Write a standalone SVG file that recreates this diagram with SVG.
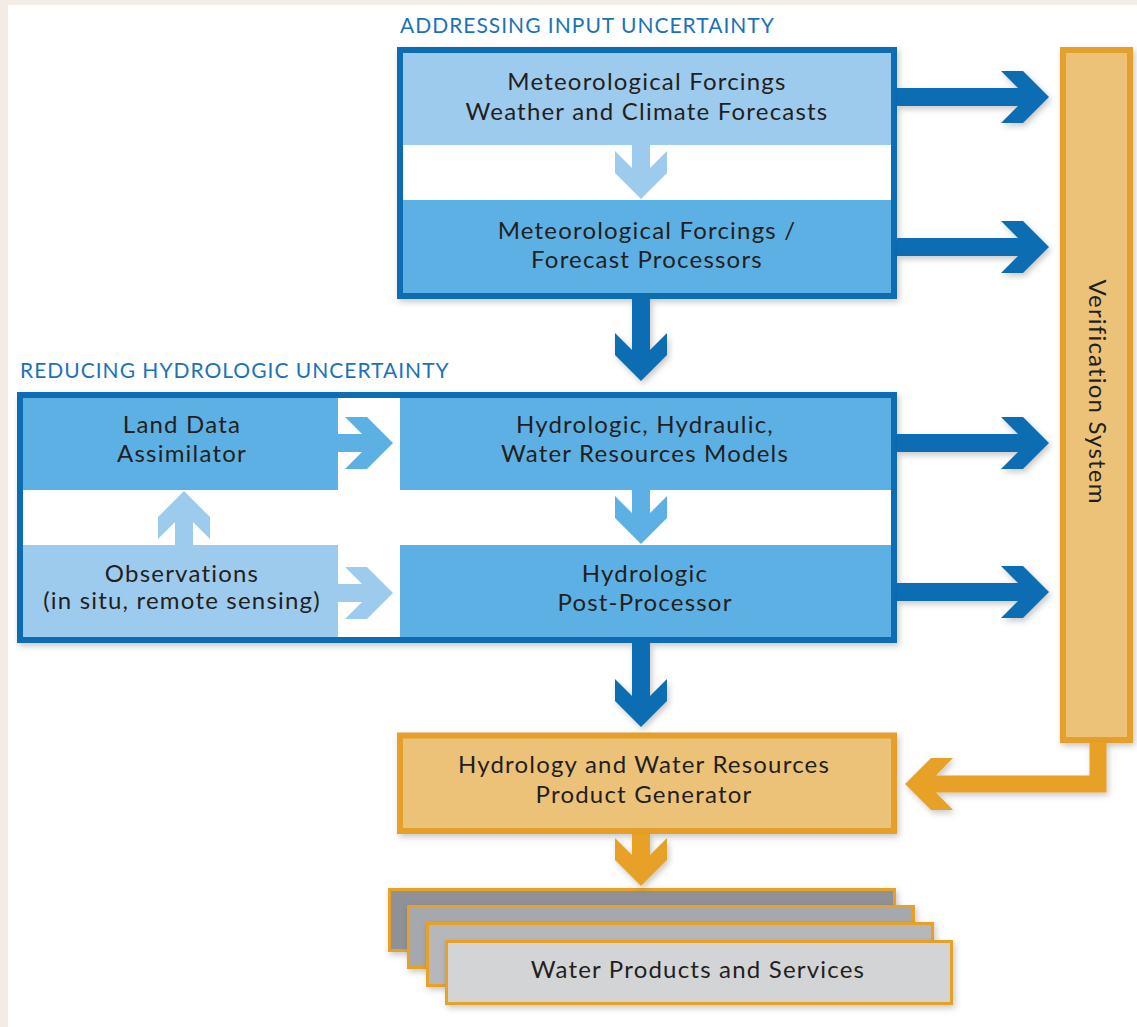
<svg xmlns="http://www.w3.org/2000/svg" width="1137" height="1027" viewBox="0 0 1137 1027">
<defs>
<style>
.t{font-family:Lato,"Open Sans","Liberation Sans",sans-serif;font-size:24px;letter-spacing:1.2px;fill:#231f20;text-anchor:middle}
.title{font-family:Lato,"Open Sans","Liberation Sans",sans-serif;font-size:21px;letter-spacing:1px;fill:#1c72b9}
.lb{fill:#9dcbee}
.mb{fill:#5db0e3}
.db{fill:#0b6db3}
.or{fill:#e6a128}
.frameB{fill:#ffffff;stroke:#0b6db3;stroke-width:6}
.frameO{fill:#ecc278;stroke:#e4a02a;stroke-width:6}
.card{stroke:#e6a128;stroke-width:3}
</style>
<filter id="sh" x="-10%" y="-10%" width="125%" height="130%">
<feDropShadow dx="2" dy="3" stdDeviation="3" flood-color="#000" flood-opacity="0.22"/>
</filter>
</defs>
<rect x="0" y="0" width="1137" height="1027" fill="#f3ebe6"/>
<rect x="8" y="5" width="1129" height="1022" fill="#ffffff"/>

<text class="title" x="400" y="33">ADDRESSING INPUT UNCERTAINTY</text>
<text class="title" x="20" y="378">REDUCING HYDROLOGIC UNCERTAINTY</text>

<g id="input-box">
<rect class="frameB" x="400" y="50" width="494" height="246" filter="url(#sh)"/>
</g>
<g id="met-forcings">
<rect class="lb" x="403" y="53" width="488" height="92"/>
<text class="t" x="647" y="90">Meteorological Forcings</text>
<text class="t" x="647" y="120">Weather and Climate Forecasts</text>
</g>
<g id="forecast-processors">
<rect class="mb" x="403" y="200" width="488" height="93"/>
<text class="t" x="647" y="239">Meteorological Forcings /</text>
<text class="t" x="647" y="268">Forecast Processors</text>
</g>

<g id="hydro-box">
<rect class="frameB" x="20" y="395" width="874" height="245" filter="url(#sh)"/>
</g>
<g id="land-data-assimilator">
<rect class="mb" x="23" y="398" width="315" height="92"/>
<text class="t" x="182" y="433">Land Data</text>
<text class="t" x="182" y="462">Assimilator</text>
</g>
<g id="observations">
<rect class="lb" x="23" y="545" width="315" height="92"/>
<text class="t" x="182" y="582">Observations</text>
<text class="t" x="182" y="609">(in situ, remote sensing)</text>
</g>
<g id="hydro-models">
<rect class="mb" x="400" y="398" width="491" height="92"/>
<text class="t" x="645" y="433">Hydrologic, Hydraulic,</text>
<text class="t" x="645" y="462">Water Resources Models</text>
</g>
<g id="post-processor">
<rect class="mb" x="400" y="545" width="491" height="92"/>
<text class="t" x="645" y="582">Hydrologic</text>
<text class="t" x="645" y="611">Post-Processor</text>
</g>

<g id="verification-system">
<rect class="frameO" x="1063" y="50" width="67" height="690" filter="url(#sh)"/>
<text class="t" transform="translate(1089,392) rotate(90)" x="0" y="0">Verification System</text>
</g>

<g id="product-generator">
<rect class="frameO" x="400" y="735.5" width="494" height="95.5" filter="url(#sh)"/>
<text class="t" x="644" y="773">Hydrology and Water Resources</text>
<text class="t" x="644" y="803">Product Generator</text>
</g>

<g id="water-products">
<rect class="card" x="389.5" y="889.5" width="505" height="61" fill="#8f9196" filter="url(#sh)"/>
<rect class="card" x="408.5" y="906.5" width="505" height="61" fill="#a5a8ac" filter="url(#sh)"/>
<rect class="card" x="427.5" y="923.5" width="505" height="62" fill="#b5b7ba" filter="url(#sh)"/>
<rect class="card" x="446.5" y="941.5" width="505" height="62" fill="#d3d4d6" filter="url(#sh)"/>
<text class="t" x="698" y="978">Water Products and Services</text>
</g>

<g id="connectors">
<path class="lb" d="M632,145 L632,168 L615,151 L615,173 L641,199 L667,173 L667,151 L650,168 L650,145 Z"/>
<path class="db" filter="url(#sh)" d="M632,299 L632,350 L615,333 L615,355 L641,381 L667,355 L667,333 L650,350 L650,299 Z"/>
<path class="db" filter="url(#sh)" d="M897,88 L1018,88 L1001,71 L1023,71 L1049,97 L1023,123 L1001,123 L1018,106 L897,106 Z"/>
<path class="db" filter="url(#sh)" d="M897,238 L1018,238 L1001,221 L1023,221 L1049,247 L1023,273 L1001,273 L1018,256 L897,256 Z"/>
<path class="db" filter="url(#sh)" d="M897,434 L1018,434 L1001,417 L1023,417 L1049,443 L1023,469 L1001,469 L1018,452 L897,452 Z"/>
<path class="db" filter="url(#sh)" d="M897,583 L1018,583 L1001,566 L1023,566 L1049,592 L1023,618 L1001,618 L1018,601 L897,601 Z"/>
<path class="mb" d="M338,434 L362,434 L345,417 L367,417 L393,443 L367,469 L345,469 L362,452 L338,452 Z"/>
<path class="lb" d="M338,584 L362,584 L345,567 L367,567 L393,593 L367,619 L345,619 L362,602 L338,602 Z"/>
<path class="lb" d="M175,545 L175,522 L158,539 L158,517 L184,491 L210,517 L210,539 L193,522 L193,545 Z"/>
<path class="mb" d="M632,490 L632,513 L615,496 L615,518 L641,544 L667,518 L667,496 L650,513 L650,490 Z"/>
<path class="db" filter="url(#sh)" d="M632,643 L632,696 L615,679 L615,701 L641,727 L667,701 L667,679 L650,696 L650,643 Z"/>
<path class="or" filter="url(#sh)" d="M632,834 L632,855 L615,838 L615,860 L641,886 L667,860 L667,838 L650,855 L650,834 Z"/>
<path class="or" filter="url(#sh)" d="M1106.5,742 L1106.5,792.5 L936,792.5 L953,810 L931,810 L905,784 L931,758 L953,758 L936,775.5 L1089.5,775.5 L1089.5,742 Z"/>
</g>
</svg>
